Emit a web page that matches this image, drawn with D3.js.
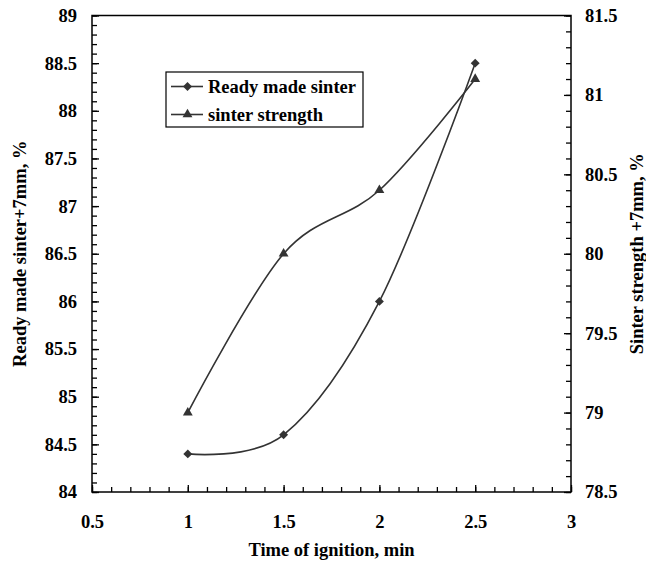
<!DOCTYPE html>
<html>
<head>
<meta charset="utf-8">
<script src="https://cdn.jsdelivr.net/npm/d3@7"></script>
<style>
  body { margin: 0; background: #fff; }
  svg text { font-family: "Times New Roman", "Liberation Serif", Times, "DejaVu Serif", serif; font-weight: bold; }
</style>
</head>
<body>
<svg id="chart" width="646" height="567"></svg>
<script>
const times = [1, 1.5, 2, 2.5];
const readyMade = [84.4, 84.6, 86, 88.5];
const strength = [79, 80, 80.4, 81.1];

const xTicks = [0.5, 1, 1.5, 2, 2.5, 3];
const leftTicks = [84, 84.5, 85, 85.5, 86, 86.5, 87, 87.5, 88, 88.5, 89];
const rightTicks = [78.5, 79, 79.5, 80, 80.5, 81, 81.5];

const seriesNames = ['Ready made sinter', 'sinter strength'];

const width = 646, height = 567;
const margin = {top: 15.5, right: 75, bottom: 75, left: 92};
const fontSize = 18.5;
const serif = '"Times New Roman", "Liberation Serif", Times, "DejaVu Serif", serif';
const ink = '#333';

const svg = d3.select('#chart');

const x = d3.scaleLinear().domain([0.5, 3]).range([margin.left, width - margin.right]);
const yL = d3.scaleLinear().domain([84, 89]).range([height - margin.bottom, margin.top]);
const yR = d3.scaleLinear().domain([78.5, 81.5]).range([height - margin.bottom, margin.top]);

const fmt = d => String(d);

// minor ticks every 0.1, pointing inwards
function minor(axis, scale, size) {
  return axis(scale).ticks(Math.round((scale.domain()[1] - scale.domain()[0]) * 10))
    .tickSize(-size).tickSizeOuter(0).tickFormat('');
}

function styleAxis(g) {
  g.attr('font-family', serif);
  g.selectAll('path.domain').remove();
  g.selectAll('line').attr('stroke', '#000').attr('stroke-width', 1.3);
  g.selectAll('text').attr('font-size', fontSize).attr('fill', '#000')
    .style('font-family', serif).attr('font-weight', 'bold');
}

const bottom = height - margin.bottom;
const right = width - margin.right;

svg.append('g').attr('transform', `translate(0,${bottom})`)
  .call(minor(d3.axisBottom, x, 5)).call(styleAxis);
svg.append('g').attr('transform', `translate(0,${bottom})`)
  .call(d3.axisBottom(x).tickValues(xTicks).tickFormat(fmt).tickSize(-7).tickSizeOuter(0).tickPadding(23))
  .call(styleAxis);

svg.append('g').attr('transform', `translate(${margin.left},0)`)
  .call(minor(d3.axisLeft, yL, 5)).call(styleAxis);
svg.append('g').attr('transform', `translate(${margin.left},0)`)
  .call(d3.axisLeft(yL).tickValues(leftTicks).tickFormat(fmt).tickSize(-7).tickSizeOuter(0).tickPadding(15))
  .call(styleAxis);

svg.append('g').attr('transform', `translate(${right},0)`)
  .call(minor(d3.axisRight, yR, 5)).call(styleAxis);
svg.append('g').attr('transform', `translate(${right},0)`)
  .call(d3.axisRight(yR).tickValues(rightTicks).tickFormat(fmt).tickSize(-7).tickSizeOuter(0).tickPadding(14))
  .call(styleAxis);

// frame
svg.append('rect')
  .attr('x', margin.left).attr('y', margin.top)
  .attr('width', right - margin.left).attr('height', bottom - margin.top)
  .attr('fill', 'none').attr('stroke', '#000').attr('stroke-width', 1.5);

// axis titles
svg.append('text')
  .attr('x', (margin.left + right) / 2).attr('y', 556)
  .attr('text-anchor', 'middle').attr('font-size', fontSize)
  .text('Time of ignition, min');

svg.append('text')
  .attr('transform', `translate(26,${(margin.top + bottom) / 2}) rotate(-90)`)
  .attr('text-anchor', 'middle').attr('font-size', fontSize)
  .text('Ready made sinter+7mm, %');

svg.append('text')
  .attr('transform', `translate(643,${(margin.top + bottom) / 2}) rotate(-90)`)
  .attr('text-anchor', 'middle').attr('font-size', fontSize)
  .text('Sinter strength +7mm, %');

// series
const diamond = d3.symbol(d3.symbolSquare, 40);
const triangle = d3.symbol(d3.symbolTriangle, 42);

const series = [
  {name: seriesNames[0], values: readyMade, y: yL, sym: diamond, rot: 45},
  {name: seriesNames[1], values: strength, y: yR, sym: triangle, rot: 0}
];

const line = d3.line().curve(d3.curveCardinal.tension(0));

series.forEach(s => {
  const pts = times.map((t, i) => [x(t), s.y(s.values[i])]);
  svg.append('path')
    .attr('d', line(pts))
    .attr('fill', 'none').attr('stroke', ink).attr('stroke-width', 1.6);
  svg.append('g').selectAll('path')
    .data(pts)
    .enter().append('path')
    .attr('d', s.sym())
    .attr('transform', d => `translate(${d[0]},${d[1]}) rotate(${s.rot})`)
    .attr('fill', ink);
});

// legend
const legend = svg.append('g');
legend.append('rect')
  .attr('x', 166).attr('y', 72).attr('width', 197).attr('height', 55)
  .attr('fill', '#fff').attr('stroke', '#000').attr('stroke-width', 1.2);

const rows = legend.selectAll('.row')
  .data(series)
  .enter().append('g')
  .attr('class', 'row')
  .attr('transform', (d, i) => `translate(0,${86.5 + i * 28})`);

rows.append('line')
  .attr('x1', 171).attr('x2', 203)
  .attr('stroke', ink).attr('stroke-width', 1.6);
rows.append('path')
  .attr('d', d => d.sym())
  .attr('transform', d => `translate(187.5,0) rotate(${d.rot})`)
  .attr('fill', ink);
rows.append('text')
  .attr('x', 208).attr('dy', '0.35em')
  .attr('font-size', fontSize)
  .text(d => d.name);
</script>
</body>
</html>
